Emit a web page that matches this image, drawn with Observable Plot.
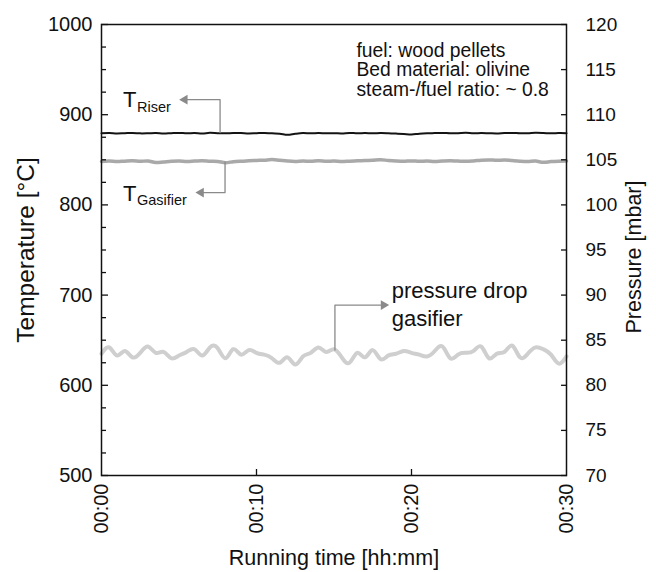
<!DOCTYPE html>
<html>
<head>
<meta charset="utf-8">
<script src="https://cdn.jsdelivr.net/npm/d3@7"></script>
<script src="https://cdn.jsdelivr.net/npm/@observablehq/plot@0.6"></script>
<style>
  html, body { margin: 0; padding: 0; background: #fff; }
  #chart svg { display: block; }
</style>
</head>
<body>
<div id="chart"></div>
<script>
// ---- data ----
const minutes = d3.range(0, 30.5, 0.5); // sampling every 0.5 min, 00:00 .. 00:30

const tRiser = [
  879.4, 879.6, 879.2, 879.5, 879.8, 879.3, 879.4, 879.7, 879.1, 879.5,
  879.8, 879.4, 879.6, 879.2, 879.9, 879.5, 879.3, 879.7, 879.6, 879.2,
  879.5, 879.8, 879.3, 879.0, 877.8, 878.9, 879.6, 879.3, 879.7, 879.4,
  879.5, 879.2, 879.8, 879.4, 879.6, 879.3, 879.7, 879.5, 879.1, 878.6,
  878.0, 878.9, 879.4, 879.6, 879.8, 879.4, 879.5, 879.9, 879.3, 879.6,
  879.4, 879.2, 879.6, 879.8, 879.4, 879.5, 880.0, 879.8, 879.3, 879.6,
  879.5
];

const tGasifier = [
  848.2, 848.6, 848.0, 848.5, 848.9, 848.3, 848.7, 846.9, 847.6, 848.4,
  848.8, 848.2, 848.6, 849.0, 848.4, 848.1, 846.8, 847.9, 848.5, 848.9,
  849.3, 849.6, 850.2, 849.4, 848.6, 848.2, 848.7, 848.3, 848.9, 848.4,
  848.6, 848.1, 848.5, 848.9, 849.2, 849.6, 850.1, 849.3, 848.7, 848.4,
  848.8, 848.3, 848.6, 848.2, 848.7, 849.0, 848.6, 848.3, 848.8, 849.6,
  849.9, 849.4, 849.8, 849.1, 848.5, 848.2, 848.6, 847.2, 848.0, 848.4,
  848.6
];

// pressure drop gasifier [mbar]
const pressure = [
  83.5, 84.2, 83.3, 83.8, 83.1, 83.6, 84.3, 83.6, 83.7, 83.0,
  83.3, 83.7, 84.0, 83.3, 84.2, 84.1, 83.0, 84.0, 83.4, 83.9,
  83.6, 83.4, 83.0, 82.5, 83.1, 82.3, 83.2, 83.6, 84.2, 83.7,
  84.0, 83.1, 82.5, 83.6, 83.1, 83.9, 82.9, 83.3, 83.5, 83.8,
  83.6, 83.4, 83.2, 83.8, 84.3, 83.0, 83.4, 83.6, 83.8, 84.3,
  83.0, 83.5, 83.7, 84.4, 83.1, 83.5, 84.2, 84.0, 83.4, 82.4,
  83.2
];

const xTicks = [0, 10, 20, 30];
const xTickLabels = ["00:00", "00:10", "00:20", "00:30"];
const tempTicks = [500, 600, 700, 800, 900, 1000];
const tempMinorTicks = [525, 550, 575, 625, 650, 675, 725, 750, 775, 825, 850, 875, 925, 950, 975];
const pressureTicks = [70, 75, 80, 85, 90, 95, 100, 105, 110, 115, 120];
const noteLines = ["fuel: wood pellets", "Bed material: olivine", "steam-/fuel ratio: ~ 0.8"];
const xTitle = "Running time [hh:mm]";
const yTitle = "Temperature [°C]";
const y2Title = "Pressure [mbar]";

// pressure (70..120 mbar) shares the temperature axis (500..1000 °C)
const toTemp = p => 500 + (p - 70) * 10;
const toPressure = t => 70 + (t - 500) / 10;

const riserRows = minutes.map((m, i) => ({m, v: tRiser[i]}));
const gasRows = minutes.map((m, i) => ({m, v: tGasifier[i]}));
const pressRows = minutes.map((m, i) => ({m, v: toTemp(pressure[i])}));

const arrowColor = "#8a8a8a";
const font = "'Liberation Sans', Arial, Helvetica, sans-serif";

const chart = Plot.plot({
  width: 656,
  height: 572,
  marginLeft: 101,
  marginRight: 90,
  marginTop: 24,
  marginBottom: 97,
  style: {fontFamily: font, fontSize: "20px", color: "#111", background: "#fff"},
  x: {domain: [0, 30]},
  y: {domain: [500, 1000]},
  marks: [
    // data lines
    Plot.line(pressRows, {x: "m", y: "v", stroke: "#cfcfcf", strokeWidth: 4, curve: "natural"}),
    Plot.line(gasRows, {x: "m", y: "v", stroke: "#a9a9a9", strokeWidth: 3.5, curve: "catmull-rom"}),
    Plot.line(riserRows, {x: "m", y: "v", stroke: "#141414", strokeWidth: 2, curve: "catmull-rom"}),

    // frame
    Plot.frame({stroke: "#111", strokeWidth: 1.5}),

    // left axis
    Plot.axisY(tempTicks, {anchor: "left", tickSize: 0, tickPadding: 9, fontSize: 20,
      tickFormat: d => String(d), label: null}),
    Plot.axisY(tempTicks, {anchor: "left", tickSize: -7, fill: "none", strokeWidth: 1.3, label: null}),
    Plot.axisY(tempMinorTicks, {anchor: "left", tickSize: -5, fill: "none", strokeWidth: 1.3, label: null}),

    // right axis (pressure)
    Plot.axisY(pressureTicks.map(toTemp), {anchor: "right", tickSize: 0, tickPadding: 19, fontSize: 19,
      tickFormat: d => String(toPressure(d)), label: null}),
    Plot.axisY(pressureTicks.map(toTemp), {anchor: "right", tickSize: -6, fill: "none", strokeWidth: 1.3, label: null}),

    // bottom axis
    Plot.axisX(xTicks, {anchor: "bottom", tickSize: 0, tickPadding: 8, tickRotate: -90, fontSize: 20,
      tickFormat: d => xTickLabels[xTicks.indexOf(d)], label: null}),
    Plot.axisX([10, 20], {anchor: "bottom", tickSize: -6, fill: "none", strokeWidth: 1.3, label: null}),

    // axis titles
    Plot.text([yTitle], {frameAnchor: "left", dx: -68, rotate: -90, textAnchor: "middle",
      lineAnchor: "bottom", fontSize: 24.5}),
    Plot.text([y2Title], {frameAnchor: "right", dx: 74, dy: 7, rotate: -90, textAnchor: "middle",
      lineAnchor: "bottom", fontSize: 21.5}),
    Plot.text([xTitle], {frameAnchor: "bottom", dy: 89, textAnchor: "middle", lineAnchor: "bottom", fontSize: 21.5}),

    // info text
    Plot.text([noteLines.join("\n")], {x: 16.45, y: 921.1, textAnchor: "start", lineAnchor: "bottom",
      lineHeight: 1.01, fontSize: 19.3}),

    // T_Riser label + connector
    Plot.text(["T"], {x: 1.39, y: 908.9, textAnchor: "start", lineAnchor: "bottom", fontSize: 22}),
    Plot.text(["Riser"], {x: 2.29, y: 903.3, textAnchor: "start", lineAnchor: "bottom", fontSize: 14.5}),
    Plot.line([[7.65, 880.2], [7.65, 916.7], [5.4, 916.7]], {stroke: arrowColor, strokeWidth: 1.3}),
    Plot.dot([[5.37, 916.7]], {symbol: "triangle", r: 3.6, fill: arrowColor, rotate: -90}),

    // T_Gasifier label + connector
    Plot.text(["T"], {x: 1.39, y: 804.4, textAnchor: "start", lineAnchor: "bottom", fontSize: 22}),
    Plot.text(["Gasifier"], {x: 2.29, y: 799.4, textAnchor: "start", lineAnchor: "bottom", fontSize: 14.5}),
    Plot.line([[7.97, 847.5], [7.97, 813.7], [6.45, 813.7]], {stroke: arrowColor, strokeWidth: 1.3}),
    Plot.dot([[6.42, 813.7]], {symbol: "triangle", r: 3.6, fill: arrowColor, rotate: -90}),

    // pressure drop label + connector
    Plot.text(["pressure drop\ngasifier"], {x: 18.72, y: 665.6, textAnchor: "start", lineAnchor: "bottom",
      lineHeight: 1.29, fontSize: 22}),
    Plot.line([[15.06, 639], [15.06, 688.9], [18.1, 688.9]], {stroke: arrowColor, strokeWidth: 1.3}),
    Plot.dot([[18.2, 688.9]], {symbol: "triangle", r: 3.6, fill: arrowColor, rotate: 90})
  ]
});

document.getElementById("chart").appendChild(chart);
</script>
</body>
</html>
